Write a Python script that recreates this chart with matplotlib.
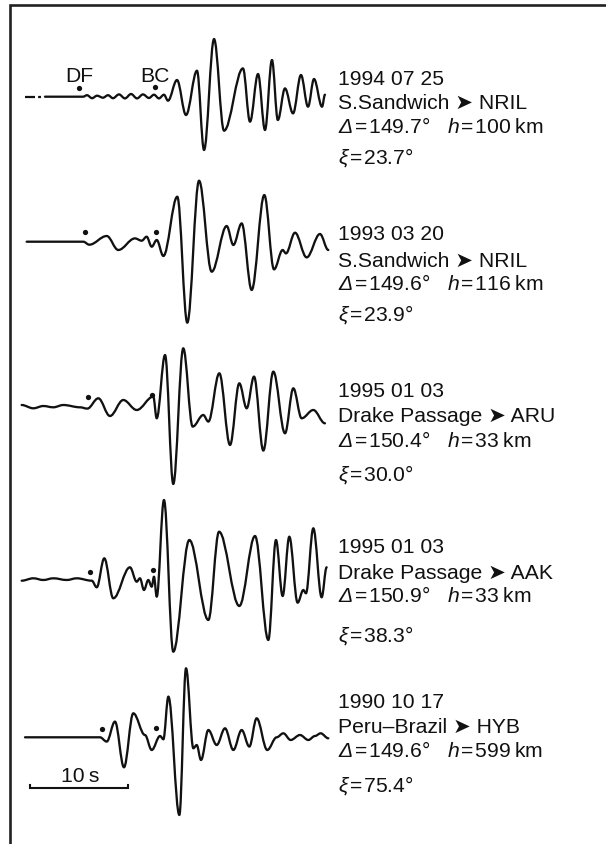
import matplotlib
matplotlib.use("Agg")
import matplotlib.pyplot as plt
from matplotlib.path import Path
from matplotlib.patches import PathPatch

plt.rcParams['font.family'] = ['Liberation Sans', 'DejaVu Sans']
plt.rcParams['mathtext.fontset'] = 'custom'
plt.rcParams['mathtext.rm'] = 'Liberation Sans:italic'
plt.rcParams['mathtext.it'] = 'Liberation Sans:italic'

# ---------------- data: digitised seismograms (time in s, relative amplitude) ----------------
t1 = [0.0, 2.04, 5.92, 6.33, 6.84, 7.35, 7.96, 8.47, 8.98, 9.59, 10.20, 10.82, 11.43, 12.04, 12.65,
      13.16, 13.67, 14.18, 14.59, 15.51, 16.43, 17.55, 18.27, 19.29, 20.31, 22.24, 22.96, 23.78,
      24.49, 25.20, 25.80, 26.53, 27.35, 28.16, 28.88, 29.49, 30.31, 30.61]
a1 = [0, 0, 0, 1.5, -1.5, 1.0, -1, 1.5, -1.5, 2.3, -1.7, 2.7, -1.7, 2.3, -1.3,
      2.0, -1.7, 2.0, -4, 16.7, -18.3, 26, -53.3, 57.7, -34, 28.3, -25, 22.7,
      -33.3, 36.7, -23.3, 8.3, -16.7, 21.7, -10, 17.7, -10, 2]
t1_solid_from = 2.04

t2 = [0.17, 5.95, 6.56, 8.34, 9.52, 11.22, 11.91, 12.41, 12.93, 13.44, 14.12, 15.54, 16.56, 17.76,
      19.05, 20.58, 21.26, 22.11, 23.13, 24.42, 25.41, 26.29, 26.63, 27.55, 28.74, 30.10, 30.95]
a2 = [0, 0, -3, 5.7, -8.3, 3.3, 1, 5, -5, 1.7, -14.3, 45, -81, 61,
      -30, 15.7, -3.3, 18.3, -48.3, 46.7, -27.7, -8.3, -11.7, 9, -15.7, 7.7, -8.3]

t3 = [-0.34, 0.85, 1.87, 2.89, 3.91, 5.61, 6.36, 7.48, 8.67, 10.03, 11.40, 13.09, 13.44, 14.29,
      15.13, 16.15, 17.11, 18.19, 18.71, 19.83, 20.92, 21.87, 22.62, 23.37, 24.32, 25.34, 26.53,
      27.38, 28.23, 29.42, 30.61]
a3 = [3.3, 0, 2.3, 1, 3.3, 1, -0.3, 10, -7.7, 8.3, -1.7, 11.7, -10, 53.3,
      -75.7, 60, -18.3, -6.7, -13.3, 35, -36.7, 25, 0, 31.7, -42.3, 36.7, -25,
      20, -10, -1.7, -15]

t4 = [-0.34, 0.85, 1.87, 2.89, 4.26, 5.28, 6.81, 7.32, 8.09, 9.01, 10.71, 11.40, 11.73, 12.14,
      12.58, 12.93, 13.16, 13.44, 14.18, 15.13, 16.77, 18.71, 19.80, 21.87, 23.47, 24.83, 25.61,
      26.29, 26.97, 27.82, 28.40, 28.67, 29.42, 30.27, 30.78]
a4 = [-0.7, 1.7, 0, 1.7, 0, 1.7, -0.7, -7.3, 21.7, -18.3, 12.7, -1.7, 1.7, -10,
      0, -6.7, 3.3, -16.7, 80, -71.7, 40, -40, 48.3, -26, 44, -60, 40,
      -16, 43.3, -22.7, -10, -13.3, 51.7, -17.3, 12.7]

t5 = [0.0, 7.65, 8.34, 9.18, 10.10, 11.05, 12.24, 12.93, 13.78, 14.12, 14.63, 15.75, 16.43, 17.18,
      17.52, 17.96, 18.71, 19.56, 20.41, 21.26, 22.11, 22.89, 23.64, 24.72, 25.68, 26.36, 27.11,
      28.06, 28.91, 29.59, 30.17, 30.95]
a5 = [0, 0, -4.3, 15.7, -30, 24, 2.3, -12.7, 1.3, -2, 40.7, -77.7, 69, -11,
      -7.7, -22.7, 7.3, -7.7, 9, -12.7, 7.3, -9.3, 19, -12.7, 0, 4, -2.7,
      2.3, -2.7, 1.3, 4, -1]

# phase picks (DF and BC arrivals): time, height of dot above trace baseline
df_t = [5.51, 6.12, 6.46, 6.63, 7.83]
df_a = [8.7, 9.4, 11.6, 8.3, 8.3]
bc_t = [13.27, 13.34, 12.93, 13.03, 13.37]
bc_a = [9.7, 10.0, 13.3, 10.0, 9.0]

dates = ["1994 07 25", "1993 03 20", "1995 01 03", "1995 01 03", "1990 10 17"]
regions = ["S.Sandwich", "S.Sandwich", "Drake Passage", "Drake Passage", "Peru\u2013Brazil"]
stations = ["NRIL", "NRIL", "ARU", "AAK", "HYB"]
deltas = [149.7, 149.6, 150.4, 150.9, 149.6]
depths = [100, 116, 33, 33, 599]
xis = [23.7, 23.9, 30.0, 38.3, 75.4]

scale_len = 10  # s

# ---------------- layout ----------------
W, H = 606, 844
PX_PER_S = 9.8
X0 = 25  # pixel of t = 0
baselines = [96.7, 241.7, 408.3, 580.0, 737.3]
text_lines_y = [[85, 109.3, 133.3, 163.5],
                [240, 266.7, 290, 320],
                [396.7, 421.7, 447.3, 480],
                [553.3, 579.3, 601.7, 641.7],
                [708.3, 733.3, 756.7, 791.3]]
text_x = (338.5 - X0) / PX_PER_S
FS = 15.2
INK = '#111111'
EQ = "\u200a=\u200a"

fig = plt.figure(figsize=(W / 100, H / 100), dpi=100)
ax = fig.add_axes([0, 0, 1, 1])
ax.set_xlim(-X0 / PX_PER_S, (W - X0) / PX_PER_S)
ax.set_ylim(H, 0)
ax.axis('off')


def smooth_path(ts, ys, k=0.36):
    verts = [(ts[0], ys[0])]
    codes = [Path.MOVETO]
    for i in range(1, len(ts)):
        dx = ts[i] - ts[i - 1]
        verts += [(ts[i - 1] + k * dx, ys[i - 1]), (ts[i] - k * dx, ys[i]), (ts[i], ys[i])]
        codes += [Path.CURVE4] * 3
    return Path(verts, codes)


traces = [(t1, a1), (t2, a2), (t3, a3), (t4, a4), (t5, a5)]
for idx, ((ts, amps), base) in enumerate(zip(traces, baselines)):
    ys = [base - a for a in amps]
    if idx == 0:
        n0 = ts.index(t1_solid_from)
        ax.plot([ts[0], ts[n0]], [ys[0], ys[n0]], color=INK, lw=1.6,
                linestyle=(0, (4.5, 1.4, 1.3, 1.8)), solid_capstyle='butt', dash_capstyle='butt')
        ts, ys = ts[n0:], ys[n0:]
    patch = PathPatch(smooth_path(ts, ys), facecolor='none', edgecolor=INK, lw=1.65,
                      capstyle='round', joinstyle='round', transform=ax.transData)
    ax.add_patch(patch)
    # phase dots
    ax.plot([df_t[idx], bc_t[idx]], [base - df_a[idx], base - bc_a[idx]], 'o',
            color=INK, ms=3.8, mec='none')
    # annotation block
    ly = text_lines_y[idx]
    ax.text(text_x, ly[0], dates[idx], fontsize=FS, color=INK, va='baseline', ha='left')
    ax.text(text_x, ly[1], f"{regions[idx]} \u27a4 {stations[idx]}", fontsize=FS, color=INK,
            va='baseline', ha='left')
    ax.text(text_x, ly[2], f"$\\Delta${EQ}{deltas[idx]:.1f}\u00b0   $h${EQ}{depths[idx]}\u2009km",
            fontsize=FS, color=INK, va='baseline', ha='left')
    ax.text(text_x, ly[3], f"$\\xi${EQ}{xis[idx]:.1f}\u00b0", fontsize=FS, color=INK,
            va='baseline', ha='left')

# DF / BC labels above first trace
ax.text(df_t[0], 81.7, "DF", fontsize=FS, color=INK, ha='center', va='baseline')
ax.text(bc_t[0], 81.7, "BC", fontsize=FS, color=INK, ha='center', va='baseline')

# time scale bar
sb_x0 = (30 - X0) / PX_PER_S
sb_y = 788
ax.plot([sb_x0, sb_x0, sb_x0 + scale_len, sb_x0 + scale_len],
        [sb_y - 3.5, sb_y, sb_y, sb_y - 3.5], color=INK, lw=1.5, solid_joinstyle='miter')
ax.text(sb_x0 + scale_len / 2 + 0.1, 782, f"{scale_len}\u2009s", fontsize=FS, color=INK,
        ha='center', va='baseline')

# frame (top and left edges visible)
fx = (9.5 - X0) / PX_PER_S
ax.plot([fx, fx, (W + 20 - X0) / PX_PER_S], [H + 20, 5.3, 5.3], color='#222222', lw=1.9,
        solid_joinstyle='miter', clip_on=False)

fig.savefig("out.png", dpi=100)
